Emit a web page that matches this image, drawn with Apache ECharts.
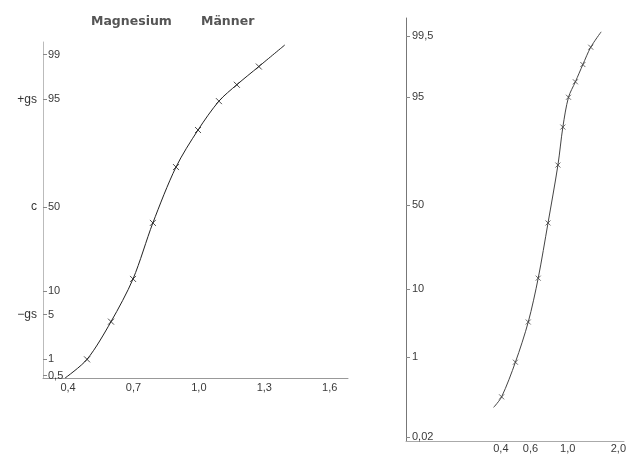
<!DOCTYPE html>
<html>
<head>
<meta charset="utf-8">
<script src="https://cdn.jsdelivr.net/npm/echarts@6/dist/echarts.min.js"></script>
<style>html,body{margin:0;padding:0;background:#fff}#c{width:629px;height:455px}</style>
</head>
<body>
<div id="c"></div>
<script>
// ---- data ----
const leftX = [0.487, 0.597, 0.698, 0.789, 0.895, 0.996, 1.092, 1.174, 1.275];
const leftP = [1.0, 4.0, 13.6, 40.4, 72.9, 88.0, 94.7, 96.9, 98.4];
const leftLineStart = [0.386, 0.45];
const leftLineEnd = [1.394, 99.33];

const rightX = [0.404, 0.488, 0.582, 0.667, 0.763, 0.874, 0.935, 1.01, 1.11, 1.23, 1.37];
const rightP = [0.17, 0.82, 3.7, 13.2, 39.2, 72.9, 88.3, 95.0, 97.0, 98.4, 99.2];
const rightLineStart = [0.362, 0.10];
const rightLineEnd = [1.58, 99.59];

const leftYTicks = [99, 95, 50, 10, 5, 1, 0.5];
const leftYLabels = ['99', '95', '50', '10', '5', '1', '0,5'];
const sideTicks = [95, 50, 5];
const sideLabels = ['+gs', 'c', '\u2212gs'];
const leftXTicks = [0.4, 0.7, 1.0, 1.3, 1.6];
const leftXLabels = ['0,4', '0,7', '1,0', '1,3', '1,6'];

const rightYTicks = [99.5, 95, 50, 10, 1, 0.02];
const rightYLabels = ['99,5', '95', '50', '10', '1', '0,02'];
const rightXTicks = [0.4, 0.6, 1.0, 2.0];
const rightXLabels = ['0,4', '0,6', '1,0', '2,0'];

// ---- probability-paper transform (inverse normal) ----
function probit(p) {
  const a=[-3.969683028665376e+01,2.209460984245205e+02,-2.759285104469687e+02,1.383577518672690e+02,-3.066479806614716e+01,2.506628277459239e+00];
  const b=[-5.447609879822406e+01,1.615858368580409e+02,-1.556989798598866e+02,6.680131188771972e+01,-1.328068155288572e+01];
  const c=[-7.784894002430293e-03,-3.223964580411365e-01,-2.400758277161838e+00,-2.549732539343734e+00,4.374664141464968e+00,2.938163982698783e+00];
  const d=[7.784695709041462e-03,3.224671290700398e-01,2.445134137142996e+00,3.754408661907416e+00];
  const pl=0.02425, ph=1-pl; let q, r;
  if (p < pl) { q=Math.sqrt(-2*Math.log(p)); return (((((c[0]*q+c[1])*q+c[2])*q+c[3])*q+c[4])*q+c[5])/((((d[0]*q+d[1])*q+d[2])*q+d[3])*q+1); }
  if (p <= ph) { q=p-0.5; r=q*q; return (((((a[0]*r+a[1])*r+a[2])*r+a[3])*r+a[4])*r+a[5])*q/(((((b[0]*r+b[1])*r+b[2])*r+b[3])*r+b[4])*r+1); }
  q=Math.sqrt(-2*Math.log(1-p)); return -(((((c[0]*q+c[1])*q+c[2])*q+c[3])*q+c[4])*q+c[5])/((((d[0]*q+d[1])*q+d[2])*q+d[3])*q+1);
}
const z = pct => probit(pct / 100);
const lg = v => Math.log10(v);

function lookup(positions, labels) {
  return function (v) {
    let best = 0, bd = Infinity;
    positions.forEach((p, i) => { const dd = Math.abs(p - v); if (dd < bd) { bd = dd; best = i; } });
    return labels[best];
  };
}

const leftYPos = leftYTicks.map(z);
const sidePos = sideTicks.map(z);
const rightYPos = rightYTicks.map(z);
const rightXPos = rightXTicks.map(lg);

const leftMarks = leftX.map((x, i) => [x, z(leftP[i])]);
const leftLine = [leftLineStart].concat(leftX.map((x, i) => [x, leftP[i]]), [leftLineEnd]).map(d => [d[0], z(d[1])]);
const rightMarks = rightX.map((x, i) => [lg(x), z(rightP[i])]);
const rightLine = [rightLineStart].concat(rightX.map((x, i) => [x, rightP[i]]), [rightLineEnd]).map(d => [lg(d[0]), z(d[1])]);

const font = 'Liberation Sans, Arial, sans-serif';
const titleFont = 'DejaVu Sans, sans-serif';
const labelColor = '#3a3a3a';
const crossPath = 'path://M0,0L10,10M10,0L0,10';

const chart = echarts.init(document.getElementById('c'));
chart.setOption({
  backgroundColor: '#fff',
  animation: false,
  title: [
    { text: 'Magnesium', left: 86, top: 10, textStyle: { fontFamily: titleFont, fontSize: 12.5, fontWeight: 'bold', color: '#555' } },
    { text: 'Männer', left: 196, top: 10, textStyle: { fontFamily: titleFont, fontSize: 12.5, fontWeight: 'bold', color: '#555' } }
  ],
  grid: [
    { left: 43, top: 42, width: 305, height: 336 },
    { left: 406, top: 18, width: 223, height: 423 }
  ],
  xAxis: [
    {
      gridIndex: 0, type: 'value', min: 0.285, max: 1.684,
      axisLine: { onZero: false, lineStyle: { color: '#999', width: 1 } },
      axisTick: { show: false }, splitLine: { show: false },
      axisLabel: { customValues: leftXTicks, formatter: lookup(leftXTicks, leftXLabels), margin: 4, fontFamily: font, fontSize: 11, color: labelColor }
    },
    {
      gridIndex: 1, type: 'value', min: lg(0.109), max: lg(2.16),
      axisLine: { onZero: false, lineStyle: { color: '#aaa', width: 1 } },
      axisTick: { show: false }, splitLine: { show: false },
      axisLabel: { customValues: rightXPos, formatter: lookup(rightXPos, rightXLabels), margin: 2, fontFamily: font, fontSize: 11, color: labelColor }
    }
  ],
  yAxis: [
    {
      gridIndex: 0, type: 'value', min: -2.611, max: 2.519,
      axisLine: { show: true, onZero: false, lineStyle: { color: '#bbb', width: 1 } },
      axisTick: { show: true, inside: true, length: 4, customValues: leftYPos, lineStyle: { color: '#888' } },
      splitLine: { show: false },
      axisLabel: { inside: true, customValues: leftYPos, formatter: lookup(leftYPos, leftYLabels), margin: 5, fontFamily: font, fontSize: 11, color: labelColor }
    },
    {
      gridIndex: 0, type: 'value', min: -2.611, max: 2.519, position: 'left',
      axisLine: { show: false, onZero: false }, axisTick: { show: false }, splitLine: { show: false },
      axisLabel: { customValues: sidePos, formatter: lookup(sidePos, sideLabels), margin: 6, fontFamily: font, fontSize: 12, color: '#333' }
    },
    {
      gridIndex: 1, type: 'value', min: -3.603, max: 2.855,
      axisLine: { show: true, onZero: false, lineStyle: { color: '#777', width: 1 } },
      axisTick: { show: true, inside: true, length: 4, customValues: rightYPos, lineStyle: { color: '#888' } },
      splitLine: { show: false },
      axisLabel: { inside: true, customValues: rightYPos, formatter: lookup(rightYPos, rightYLabels), margin: 6, fontFamily: font, fontSize: 11, color: labelColor }
    }
  ],
  series: [
    { type: 'line', xAxisIndex: 0, yAxisIndex: 0, data: leftLine, smooth: 0.3, showSymbol: false, symbol: 'none', lineStyle: { color: '#222', width: 1 } },
    { type: 'scatter', xAxisIndex: 0, yAxisIndex: 0, data: leftMarks, symbol: crossPath, symbolSize: 6, itemStyle: { color: '#222', borderColor: '#222', borderWidth: 1 } },
    { type: 'line', xAxisIndex: 1, yAxisIndex: 2, data: rightLine, smooth: 0.3, showSymbol: false, symbol: 'none', lineStyle: { color: '#444', width: 1 } },
    { type: 'scatter', xAxisIndex: 1, yAxisIndex: 2, data: rightMarks, symbol: crossPath, symbolSize: 5, itemStyle: { color: '#444', borderColor: '#444', borderWidth: 1 } }
  ]
});
</script>
</body>
</html>
